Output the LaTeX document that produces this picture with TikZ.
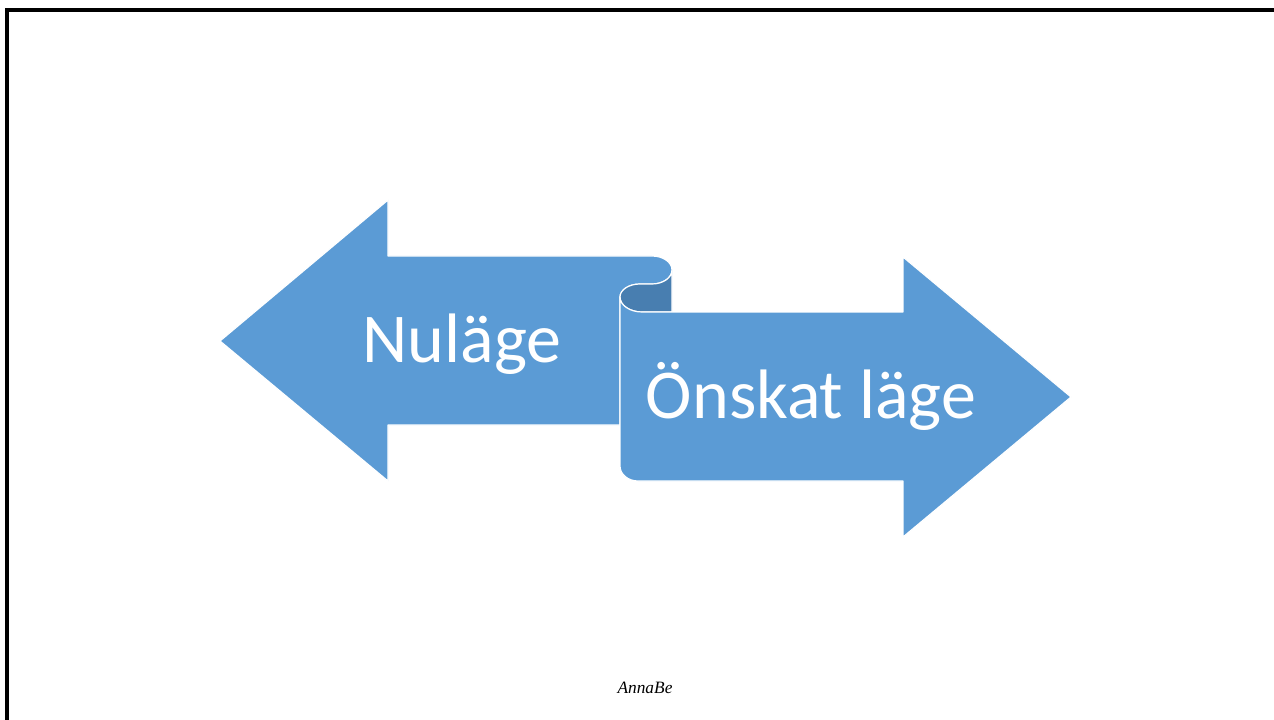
\documentclass[tikz,border=0pt]{standalone}
\usepackage{fontspec}
\setmainfont{Carlito}
\newfontfamily\signfont{Liberation Serif}
\definecolor{ribbonblue}{RGB}{91,155,213}
\definecolor{ribbondark}{RGB}{72,126,176}

\begin{document}
\begin{tikzpicture}[x=0.75pt, y=-0.75pt, ribbon/.style={fill=ribbonblue, draw=white, line width=0.9pt, line join=round}, fold/.style={fill=ribbondark, draw=white, line width=0.9pt, line join=round}, label/.style={text=white, font=\fontsize{52.5}{60}\selectfont, inner sep=0pt}]
\useasboundingbox (0,0) rectangle (1274,720);
\draw[line width=2.4pt] (7,730) -- (7,10) -- (1284,10);

% left arrow
\path[ribbon] (220,341) -- (388,200) -- (388,256) -- (652,256)
  arc[start angle=-90, end angle=90, x radius=20, y radius=14] -- (640,284)
  arc[start angle=-90, end angle=-180, x radius=20, y radius=13] -- (620,425)
  -- (388,425) -- (388,481) -- cycle;
% dark fold
\path[fold] (672,270) arc[start angle=0, end angle=90, x radius=20, y radius=14] -- (640,284)
  arc[start angle=-90, end angle=-180, x radius=20, y radius=13]
  arc[start angle=180, end angle=90, x radius=22, y radius=15] -- (672,312) -- cycle;
% right arrow
\path[ribbon] (620,297) -- (620,466)
  arc[start angle=180, end angle=90, x radius=18, y radius=15] -- (903,481)
  -- (903,537) -- (1071,397) -- (903,257) -- (903,312) -- (642,312)
  arc[start angle=90, end angle=180, x radius=22, y radius=15] -- cycle;

\node[label, anchor=base] (now) at (462,362) {Nuläge};
\node[label, anchor=base] (goal) at (811,418) {Önskat läge};
\node[font=\signfont\itshape\fontsize{13}{15}\selectfont] (sign) at (645,688) {AnnaBe};
\end{tikzpicture}
\end{document}
